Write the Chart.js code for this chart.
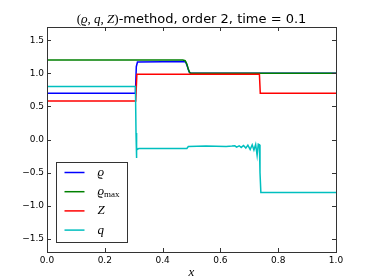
<!DOCTYPE html>
<html>
<head>
<meta charset="utf-8">
<script src="https://cdn.jsdelivr.net/npm/chart.js@4"></script>
<style>
  html, body { margin: 0; padding: 0; background: #fff; }
</style>
</head>
<body>
<canvas id="chart" width="374" height="280"></canvas>
<script>
// values
const rhoX = [0, 0.306, 0.309, 0.313, 0.40, 0.47, 0.48, 0.486, 0.492, 0.497, 1.0];
const rhoY = [0.70, 0.70, 1.10, 1.17, 1.175, 1.18, 1.17, 1.10, 1.02, 1.0, 1.0];

const rhoMaxX = [0, 0.47, 0.478, 0.484, 0.489, 0.494, 0.499, 1.0];
const rhoMaxY = [1.20, 1.20, 1.19, 1.14, 1.06, 1.01, 1.0, 1.0];

const zX = [0, 0.307, 0.311, 0.50, 0.735, 0.738, 1.0];
const zY = [0.58, 0.58, 0.985, 0.985, 0.985, 0.70, 0.70];

const qX = [0, 0.306, 0.308, 0.309, 0.311, 0.313, 0.318, 0.40, 0.484, 0.489, 0.55, 0.62, 0.64, 0.65, 0.656, 0.665,
  0.672, 0.68, 0.688, 0.695, 0.703, 0.71, 0.716, 0.722, 0.727, 0.731, 0.735, 0.737, 0.740, 1.0];
const qY = [0.80, 0.80, 0.10, -0.28, -0.12, -0.15, -0.135, -0.135, -0.135, -0.105, -0.10, -0.105, -0.10, -0.095, -0.115, -0.095,
  -0.12, -0.09, -0.13, -0.085, -0.15, -0.08, -0.16, -0.075, -0.24, -0.07, -0.08, -0.50, -0.80, -0.80];

const xTicks = [0, 0.2, 0.4, 0.6, 0.8, 1.0];
const yTicks = [-1.5, -1.0, -0.5, 0, 0.5, 1.0, 1.5];

const seriesLabels = ['ϱ', 'ϱ', 'Z', 'q'];
const seriesSubs = ['', 'max', '', ''];
const seriesColors = ['#0000ff', '#008000', '#ff0000', '#00bfbf'];

function toPoints(xs, ys) {
  return xs.map((x, i) => ({ x: x, y: ys[i] }));
}

const seriesData = [
  toPoints(rhoX, rhoY),
  toPoints(rhoMaxX, rhoMaxY),
  toPoints(zX, zY),
  toPoints(qX, qY)
];

const mathFont = '"Liberation Serif", "DejaVu Serif", serif';
const sansFont = '"DejaVu Sans", sans-serif';

// frame with inward ticks on all four sides
const framePlugin = {
  id: 'frame',
  afterDatasetsDraw(chart) {
    const ctx = chart.ctx;
    const a = chart.chartArea;
    const xs = chart.scales.x;
    const ys = chart.scales.y;
    ctx.save();
    ctx.strokeStyle = '#333';
    ctx.lineWidth = 1;
    ctx.beginPath();
    xs.ticks.forEach(t => {
      const px = Math.round(xs.getPixelForValue(t.value)) + 0.5;
      ctx.moveTo(px, a.bottom); ctx.lineTo(px, a.bottom - 4);
      ctx.moveTo(px, a.top); ctx.lineTo(px, a.top + 4);
    });
    ys.ticks.forEach(t => {
      const py = Math.round(ys.getPixelForValue(t.value)) + 0.5;
      ctx.moveTo(a.left, py); ctx.lineTo(a.left + 4, py);
      ctx.moveTo(a.right, py); ctx.lineTo(a.right - 4, py);
    });
    ctx.stroke();
    ctx.strokeRect(Math.round(a.left) + 0.5, Math.round(a.top) + 0.5,
      Math.round(a.right - a.left), Math.round(a.bottom - a.top));
    ctx.restore();
  }
};

// title with math part in italic serif
const titlePlugin = {
  id: 'mathTitle',
  afterDraw(chart) {
    const ctx = chart.ctx;
    const a = chart.chartArea;
    const parts = [
      { t: '(', f: '13px ' + mathFont },
      { t: 'ϱ', f: 'italic 13px ' + mathFont },
      { t: ', ', f: '13px ' + mathFont },
      { t: 'q', f: 'italic 13px ' + mathFont },
      { t: ', ', f: '13px ' + mathFont },
      { t: 'Z', f: 'italic 13px ' + mathFont },
      { t: ')', f: '13px ' + mathFont },
      { t: '-method, order 2, time = 0.1', f: '13px ' + sansFont }
    ];
    ctx.save();
    let total = 0;
    parts.forEach(p => { ctx.font = p.f; p.w = ctx.measureText(p.t).width; total += p.w; });
    let x = (a.left + a.right) / 2 - total / 2;
    ctx.fillStyle = '#000';
    ctx.textBaseline = 'alphabetic';
    parts.forEach(p => { ctx.font = p.f; ctx.fillText(p.t, x, 23); x += p.w; });
    ctx.restore();
  }
};

// legend box in the lower left corner of the axes
const legendPlugin = {
  id: 'boxLegend',
  afterDraw(chart) {
    const ctx = chart.ctx;
    const a = chart.chartArea;
    const left = Math.round(a.left) + 9.5;
    const top = Math.round(a.bottom) - 89.5;
    ctx.save();
    ctx.fillStyle = '#fff';
    ctx.fillRect(left, top, 71, 80);
    ctx.strokeStyle = '#333';
    ctx.lineWidth = 1;
    ctx.strokeRect(left, top, 71, 80);
    chart.data.datasets.forEach((ds, i) => {
      const y = top + 10 + i * 19.2;
      ctx.strokeStyle = ds.borderColor;
      ctx.lineWidth = 1.5;
      ctx.beginPath();
      ctx.moveTo(left + 8, y); ctx.lineTo(left + 28, y);
      ctx.stroke();
      ctx.fillStyle = '#000';
      ctx.textBaseline = 'middle';
      ctx.font = 'italic 13px ' + mathFont;
      ctx.fillText(seriesLabels[i], left + 41, y);
      if (seriesSubs[i]) {
        const w = ctx.measureText(seriesLabels[i]).width;
        ctx.font = '9px ' + mathFont;
        ctx.fillText(seriesSubs[i], left + 41 + w, y + 3);
      }
    });
    ctx.restore();
  }
};

new Chart(document.getElementById('chart'), {
  type: 'line',
  data: {
    datasets: seriesData.map((pts, i) => ({
      label: seriesLabels[i] + seriesSubs[i],
      data: pts,
      borderColor: seriesColors[i],
      backgroundColor: seriesColors[i],
      borderWidth: 1.5,
      pointRadius: 0,
      tension: 0,
      fill: false,
      order: 3 - i
    }))
  },
  options: {
    responsive: false,
    animation: false,
    events: [],
    layout: { padding: { left: 0, right: 38, top: 27, bottom: 0 } },
    plugins: {
      legend: { display: false },
      title: { display: false },
      tooltip: { enabled: false }
    },
    scales: {
      x: {
        type: 'linear',
        min: 0,
        max: 1,
        afterBuildTicks: s => { s.ticks = xTicks.map(v => ({ value: v })); },
        afterFit: s => { s.height = 28; },
        grid: { display: false, drawTicks: false },
        border: { display: false },
        ticks: {
          padding: 3,
          color: '#000',
          font: { family: sansFont, size: 9 },
          maxRotation: 0,
          callback: v => v.toFixed(1)
        },
        title: {
          display: true,
          text: 'x',
          color: '#000',
          font: { family: mathFont, size: 13, style: 'italic' },
          padding: { top: 0, bottom: 0 }
        }
      },
      y: {
        type: 'linear',
        min: -1.7,
        max: 1.7,
        afterBuildTicks: s => { s.ticks = yTicks.map(v => ({ value: v })); },
        afterFit: s => { s.width = 47; },
        grid: { display: false, drawTicks: false },
        border: { display: false },
        ticks: {
          padding: 3,
          color: '#000',
          font: { family: sansFont, size: 9 },
          callback: v => v.toFixed(1).replace('-', '\u2212')
        }
      }
    }
  },
  plugins: [framePlugin, titlePlugin, legendPlugin]
});
</script>
</body>
</html>
